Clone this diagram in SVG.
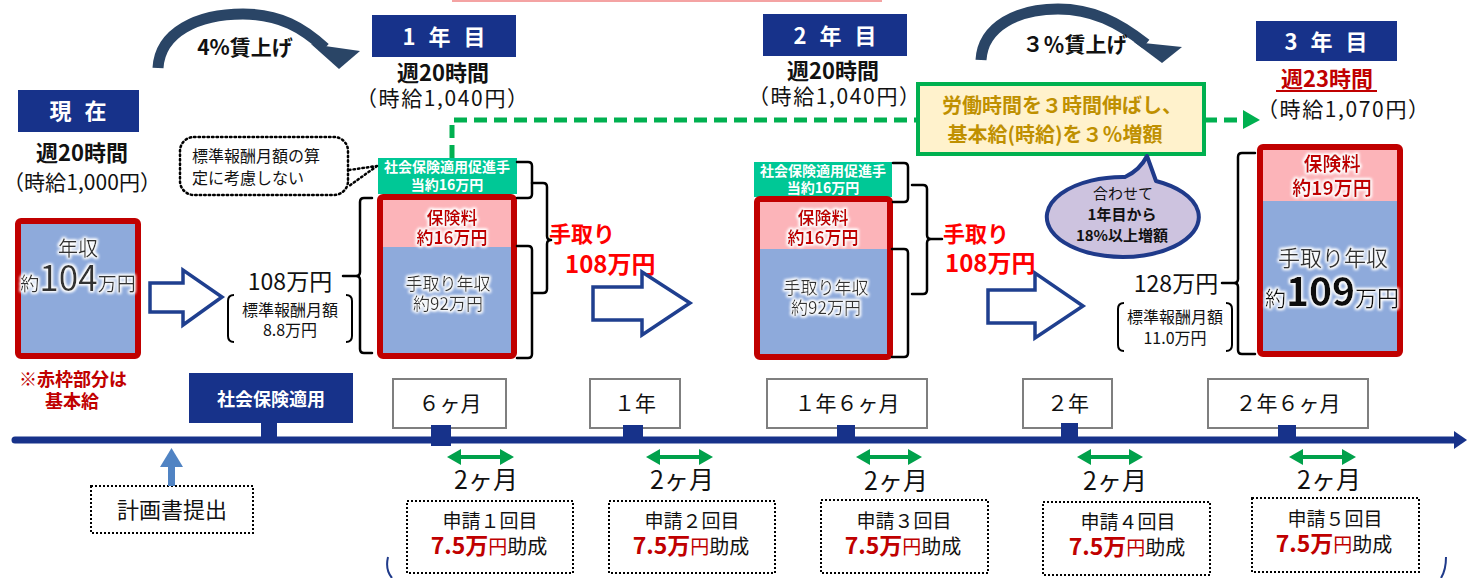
<svg xmlns="http://www.w3.org/2000/svg" width="1477" height="578" viewBox="0 0 1477 578">
<defs>
<style>
text{font-family:"Noto Sans CJK JP","Noto Sans",sans-serif;fill:#111}
.b{font-weight:bold}
.c{text-anchor:middle}
.hdr{fill:#17328a}
.hdrt{fill:#fff;font-weight:bold;font-size:22px;text-anchor:middle}
.redt{fill:#c00000}
.pink{fill:#fcb4b9}
.blue{fill:#8eaadb}
.frame{fill:none;stroke:#c00000;stroke-width:6}
.grn{fill:#00c896}
.grnt{fill:#fff;font-weight:bold;font-size:14px;text-anchor:middle}
.brace{fill:none;stroke:#000;stroke-width:2.5;stroke-linejoin:round;stroke-linecap:round}
.paren{fill:none;stroke:#000;stroke-width:2}
.hollow{fill:#fff;stroke:#1f3f8f;stroke-width:3.5}
.ms{fill:#fff;stroke:#7f7f7f;stroke-width:2}
.mst{font-size:21px;text-anchor:middle}
.tick{fill:#17328a}
.dot{fill:#fff;stroke:#000;stroke-width:2;stroke-dasharray:2 2}
.garr{fill:#00a14b}
.curve{fill:none;stroke:#2a4566;stroke-width:11}
.ahead{fill:#2a4566}
.take{fill:#ff0000;font-weight:bold}
.dash{fill:none;stroke:#00b050;stroke-width:5;stroke-dasharray:13 7}
.inner{fill:#333}
.two{font-size:25px;text-anchor:middle}
.apt{font-size:19px;text-anchor:middle}
</style>
<filter id="glow" x="-20%" y="-40%" width="140%" height="180%">
<feMorphology in="SourceAlpha" operator="dilate" radius="1.2" result="d"/>
<feGaussianBlur in="d" stdDeviation="1.6" result="bl"/>
<feFlood flood-color="#ffffff" result="w"/>
<feComposite in="w" in2="bl" operator="in" result="g"/>
<feMerge><feMergeNode in="g"/><feMergeNode in="g"/><feMergeNode in="SourceGraphic"/></feMerge>
</filter>
</defs>
<rect x="0" y="0" width="1477" height="578" fill="#fff"/>
<line x1="452" y1="1" x2="882" y2="1" stroke="#f4a3a3" stroke-width="2"/>

<!-- current -->
<g id="current">
<rect class="hdr" x="18" y="90" width="121" height="42"/>
<text class="hdrt" x="80" y="119" letter-spacing="4">現 在</text>
<text class="b c" x="82" y="161" font-size="22">週20時間</text>
<text class="c" x="82" y="190" font-size="21" textLength="158" lengthAdjust="spacing">（時給1,000円）</text>
</g>
<g id="current-box">
<rect class="blue" x="18" y="221" width="120" height="135"/>
<rect class="frame" x="18" y="221" width="120" height="135" rx="3"/>
<g filter="url(#glow)">
<text class="c inner" x="78" y="256" font-size="20">年収</text>
<text class="c inner" x="78" y="291"><tspan font-size="19">約</tspan><tspan font-size="35">104</tspan><tspan font-size="19">万円</tspan></text>
</g>
<text class="b c redt" x="73" y="386" font-size="18">※赤枠部分は</text>
<text class="b c redt" x="72" y="408" font-size="18">基本給</text>
</g>

<!-- year 1 -->
<g id="year1">
<rect class="hdr" x="372" y="15" width="144" height="42"/>
<text class="hdrt" x="446" y="45" letter-spacing="4">1 年 目</text>
<text class="b c" x="443" y="81" font-size="22">週20時間</text>
<text class="c" x="442" y="106" font-size="21" textLength="172" lengthAdjust="spacing">（時給1,040円）</text>
</g>
<g id="year1-box">
<rect class="grn" x="378" y="158" width="139" height="36"/>
<text class="grnt" x="447" y="172">社会保険適用促進手</text>
<text class="grnt" x="447" y="190">当約16万円</text>
<rect class="pink" x="380" y="197" width="134" height="50"/>
<rect class="blue" x="380" y="247" width="134" height="109"/>
<rect class="frame" x="380" y="197" width="134" height="159" rx="3"/>
<g filter="url(#glow)">
<text class="b c redt" x="452" y="224" font-size="17">保険料</text>
<text class="b c redt" x="452" y="244" font-size="17">約16万円</text>
<text class="c inner" x="448" y="290" font-size="17">手取り年収</text>
<text class="c inner" x="448" y="310" font-size="17">約92万円</text>
</g>
</g>
<g id="year1-left">
<text class="c" x="290" y="290" font-size="23">108万円</text>
<path class="paren" d="M234,295 Q228,295 228,301 V336 Q228,342 234,342 M346,295 Q352,295 352,301 V336 Q352,342 346,342"/>
<text class="c" x="290" y="316" font-size="16">標準報酬月額</text>
<text class="c" x="290" y="336" font-size="16">8.8万円</text>
</g>
<g id="year1-take">
<text class="take" x="549" y="242" font-size="22">手取り</text>
<text class="take" x="565" y="273" font-size="24">108万円</text>
</g>

<!-- year 2 -->
<g id="year2">
<rect class="hdr" x="763" y="14" width="144" height="42"/>
<text class="hdrt" x="837" y="44" letter-spacing="4">2 年 目</text>
<text class="b c" x="833" y="79" font-size="22">週20時間</text>
<text class="c" x="834" y="104" font-size="21" textLength="172" lengthAdjust="spacing">（時給1,040円）</text>
</g>
<g id="year2-box">
<rect class="grn" x="754" y="162" width="138" height="35"/>
<text class="grnt" x="823" y="176">社会保険適用促進手</text>
<text class="grnt" x="823" y="193">当約16万円</text>
<rect class="pink" x="757" y="199" width="133" height="50"/>
<rect class="blue" x="757" y="249" width="133" height="108"/>
<rect class="frame" x="757" y="199" width="133" height="158" rx="3"/>
<g filter="url(#glow)">
<text class="b c redt" x="823" y="224" font-size="17">保険料</text>
<text class="b c redt" x="823" y="244" font-size="17">約16万円</text>
<text class="c inner" x="826" y="294" font-size="17">手取り年収</text>
<text class="c inner" x="826" y="314" font-size="17">約92万円</text>
</g>
</g>
<g id="year2-take">
<text class="take" x="943" y="242" font-size="22">手取り</text>
<text class="take" x="945" y="272" font-size="24">108万円</text>
</g>

<!-- year 3 -->
<g id="year3">
<rect class="hdr" x="1256" y="21" width="141" height="40"/>
<text class="hdrt" x="1328" y="50" letter-spacing="4">3 年 目</text>
<text class="b c redt" x="1327" y="87" font-size="22">週23時間</text>
<line x1="1276" y1="91" x2="1377" y2="91" stroke="#c00000" stroke-width="2"/>
<text class="c" x="1343" y="117" font-size="21" textLength="172" lengthAdjust="spacing">（時給1,070円）</text>
</g>
<g id="year3-box">
<rect class="pink" x="1260" y="147" width="140" height="54"/>
<rect class="blue" x="1260" y="201" width="140" height="153"/>
<rect class="frame" x="1260" y="147" width="140" height="207" rx="3"/>
<g filter="url(#glow)">
<text class="b c redt" x="1332" y="171" font-size="19">保険料</text>
<text class="b c redt" x="1332" y="195" font-size="19">約19万円</text>
<text class="c inner" x="1333" y="266" font-size="22">手取り年収</text>
<text class="c" x="1332" y="306" fill="#111"><tspan font-size="21">約</tspan><tspan font-size="39" font-weight="bold">109</tspan><tspan font-size="22">万円</tspan></text>
</g>
</g>
<g id="year3-left">
<text class="c" x="1176" y="292" font-size="23">128万円</text>
<path class="paren" d="M1124,303 Q1118,303 1118,309 V345 Q1118,351 1124,351 M1226,303 Q1232,303 1232,309 V345 Q1232,351 1226,351"/>
<text class="c" x="1175" y="323" font-size="16">標準報酬月額</text>
<text class="c" x="1175" y="344" font-size="16">11.0万円</text>
</g>

<!-- note boxes -->
<g id="note-standard">
<rect x="180" y="137" width="168" height="58" rx="14" fill="#fff" stroke="#000" stroke-width="2.5" stroke-dasharray="1.5 3" stroke-linecap="round"/>
<text x="192" y="162" font-size="16">標準報酬月額の算</text>
<text x="192" y="184" font-size="16">定に考慮しない</text>
<path d="M349,170 L377,166 M377,166 L349,186" fill="none" stroke="#000" stroke-width="2.5" stroke-dasharray="1.5 3" stroke-linecap="round"/>
</g>
<g id="policy">
<rect x="918" y="84" width="286" height="70" fill="#fff2cc" stroke="#00b050" stroke-width="4"/>
<text class="b c" x="1062" y="113" font-size="20" style="fill:#bf9000">労働時間を３時間伸ばし、</text>
<text class="b c" x="1055" y="142" font-size="20" style="fill:#bf9000">基本給(時給)を３％増額</text>
</g>
<g id="bubble">
<path d="M1125,177 Q1140,170 1147,156 L1156,181 A76,40 0 1,1 1125,177 Z" fill="#cdc3df" stroke="#1f3a8a" stroke-width="4" stroke-linejoin="round"/>
<text class="c" x="1123" y="199" font-size="15">合わせて</text>
<text class="b c" x="1122" y="220" font-size="15">1年目から</text>
<text class="b c" x="1122" y="241" font-size="15">18%以上増額</text>
</g>

<!-- connectors -->
<g id="connectors">
<path class="curve" d="M158,68 C160,32 198,14 243,14 C280,14 303,28 325,48"/>
<polygon class="ahead" points="311,44 360,51 339,69"/>
<text class="b c" x="245" y="55" font-size="21">4%賃上げ</text>
<path class="curve" d="M981,60 C983,26 1018,9 1058,9 C1092,9 1118,22 1146,44"/>
<polygon class="ahead" points="1134,42 1182,47 1162,63"/>
<text class="b c" x="1075" y="52" font-size="21">３％賃上げ</text>

<polygon class="hollow" points="150,283 183,283 183,270 222,297 183,325 183,312 150,312"/>
<polygon class="hollow" points="593,287 642,287 642,272 690,303 642,335 642,320 593,320"/>
<polygon class="hollow" points="988,290 1035,290 1035,273 1083,306 1035,338 1035,323 988,323"/>

<path class="dash" d="M452,158 V120 H918"/>
<path class="dash" d="M1204,120 H1245"/>
<polygon fill="#00b050" points="1243,110 1260,120 1243,129"/>

<path class="brace" d="M372,198 H364 Q360,198 360,202 V272 Q360,276 356,276 H343 M356,276 Q360,276 360,280 V349 Q360,353 364,353 H372"/>
<path class="brace" d="M517,162 H528 Q532,162 532,166 V194 Q532,198 528,198 H517"/>
<path class="brace" d="M532,183 H543 Q547,183 547,187 V236 Q547,240 551,240 M551,240 Q547,240 547,244 V289 Q547,293 543,293 H532"/>
<path class="brace" d="M517,246 H528 Q532,246 532,250 V354 Q532,358 528,358 H517"/>

<path class="brace" d="M893,163 H904 Q908,163 908,167 V198 Q908,202 904,202 H893"/>
<path class="brace" d="M912,185 H923 Q927,185 927,189 V235 Q927,239 931,239 H942 M931,239 Q927,239 927,243 V290 Q927,294 923,294 H912"/>
<path class="brace" d="M892,249 H904 Q908,249 908,253 V353 Q908,357 904,357 H892"/>

<path class="brace" d="M1255,153 H1242 Q1238,153 1238,157 V279 Q1238,283 1234,283 H1222 M1234,283 Q1238,283 1238,287 V350 Q1238,354 1242,354 H1255"/>
</g>

<!-- timeline -->
<g id="timeline">
<line x1="15" y1="440" x2="1458" y2="440" stroke="#17328a" stroke-width="7" stroke-linecap="round"/>
<polygon fill="#17328a" points="1454,431 1467,440 1454,449"/>
</g>
<g id="apply-start">
<rect class="hdr" x="189" y="373" width="164" height="50"/>
<text class="b c" x="271" y="406" font-size="18" style="fill:#fff">社会保険適用</text>
<rect class="tick" x="261" y="422" width="16" height="18"/>
</g>
<g id="plan">
<rect class="dot" x="91" y="486" width="162" height="47"/>
<text class="c" x="172" y="518" font-size="22">計画書提出</text>
<rect x="168" y="465" width="7" height="21" fill="#5083c3"/>
<polygon fill="#5083c3" points="160,467 171.5,448 183,467"/>
</g>
<g id="m6">
<rect class="ms" x="393" y="379" width="113" height="49"/>
<text class="mst" x="450" y="411">６ヶ月</text>
<rect class="tick" x="431" y="425" width="20" height="21"/>
</g>
<g id="m12">
<rect class="ms" x="590" y="379" width="90" height="49"/>
<text class="mst" x="635" y="411">１年</text>
<rect class="tick" x="623" y="425" width="20" height="17"/>
</g>
<g id="m18">
<rect class="ms" x="767" y="379" width="160" height="49"/>
<text class="mst" x="847" y="411">１年６ヶ月</text>
<rect class="tick" x="837" y="425" width="18" height="17"/>
</g>
<g id="m24">
<rect class="ms" x="1023" y="379" width="89" height="49"/>
<text class="mst" x="1068" y="411">２年</text>
<rect class="tick" x="1061" y="423" width="17" height="19"/>
</g>
<g id="m30">
<rect class="ms" x="1208" y="379" width="160" height="49"/>
<text class="mst" x="1288" y="411">２年６ヶ月</text>
<rect class="tick" x="1278" y="425" width="18" height="17"/>
</g>

<g id="span1">
<polygon class="garr" points="447,457 461,449 461,455 500,455 500,449 514,457 500,465 500,459 461,459 461,465"/>
<text class="two" x="486" y="489">2ヶ月</text>
</g>
<g id="span2">
<polygon class="garr" points="646,457 660,449 660,455 699,455 699,449 713,457 699,465 699,459 660,459 660,465"/>
<text class="two" x="682" y="489">2ヶ月</text>
</g>
<g id="span3">
<polygon class="garr" points="856,457 870,449 870,455 908,455 908,449 922,457 908,465 908,459 870,459 870,465"/>
<text class="two" x="896" y="490">2ヶ月</text>
</g>
<g id="span4">
<polygon class="garr" points="1077,457 1091,449 1091,455 1129,455 1129,449 1143,457 1129,465 1129,459 1091,459 1091,465"/>
<text class="two" x="1115" y="490">2ヶ月</text>
</g>
<g id="span5">
<polygon class="garr" points="1289,457 1303,449 1303,455 1342,455 1342,449 1356,457 1342,465 1342,459 1303,459 1303,465"/>
<text class="two" x="1329" y="489">2ヶ月</text>
</g>

<g id="app1">
<rect class="dot" x="407" y="501" width="166" height="72"/>
<text class="apt" x="490" y="528">申請１回目</text>
<text class="c" x="489" y="554"><tspan class="b redt" font-size="23">7.5万</tspan><tspan class="redt" font-size="19">円</tspan><tspan font-size="20">助成</tspan></text>
</g>
<g id="app2">
<rect class="dot" x="609" y="501" width="166" height="72"/>
<text class="apt" x="692" y="528">申請２回目</text>
<text class="c" x="691" y="554"><tspan class="b redt" font-size="23">7.5万</tspan><tspan class="redt" font-size="19">円</tspan><tspan font-size="20">助成</tspan></text>
</g>
<g id="app3">
<rect class="dot" x="821" y="500" width="167" height="73"/>
<text class="apt" x="904" y="528">申請３回目</text>
<text class="c" x="903" y="554"><tspan class="b redt" font-size="23">7.5万</tspan><tspan class="redt" font-size="19">円</tspan><tspan font-size="20">助成</tspan></text>
</g>
<g id="app4">
<rect class="dot" x="1043" y="502" width="167" height="73"/>
<text class="apt" x="1128" y="529">申請４回目</text>
<text class="c" x="1127" y="555"><tspan class="b redt" font-size="23">7.5万</tspan><tspan class="redt" font-size="19">円</tspan><tspan font-size="20">助成</tspan></text>
</g>
<g id="app5">
<rect class="dot" x="1252" y="498" width="167" height="74"/>
<text class="apt" x="1335" y="526">申請５回目</text>
<text class="c" x="1334" y="552"><tspan class="b redt" font-size="23">7.5万</tspan><tspan class="redt" font-size="19">円</tspan><tspan font-size="20">助成</tspan></text>
</g>
<g id="bottom-brace">
<path d="M388,557 Q385,570 392,578 M1446,557 Q1446,570 1441,578" fill="none" stroke="#1f3a8a" stroke-width="2"/>
</g>
</svg>
